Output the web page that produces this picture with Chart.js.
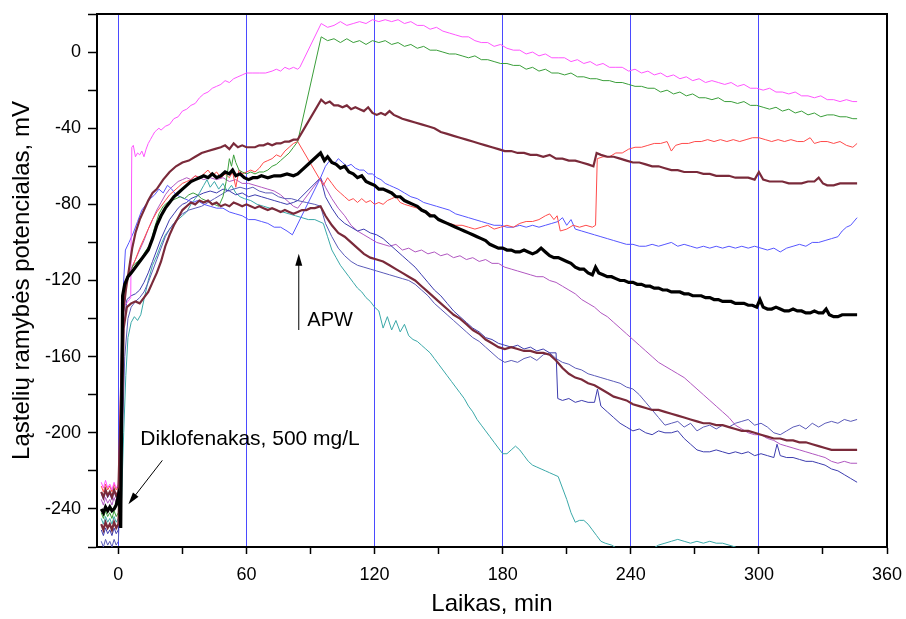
<!DOCTYPE html>
<html><head><meta charset="utf-8">
<script src="https://cdn.jsdelivr.net/npm/chart.js@4"></script>
<style>html,body{margin:0;padding:0;background:#fff}</style>
</head><body>
<canvas id="c" width="906" height="619"></canvas>
<script>
// ---- axis ticks ----
const xTickValues = [0,30,60,90,120,150,180,210,240,270,300,330,360];
const xLabelValues = [0,60,120,180,240,300,360];
const yTickValues = [-260,-240,-220,-200,-180,-160,-140,-120,-100,-80,-60,-40,-20,0,20];
const yLabelValues = [-240,-200,-160,-120,-80,-40,0];
const markerLines = [0,60,120,180,240,300];

// ---- series [time min, potential mV] ----
const blackPts = [[-8,-240],[-7,-242],[-6,-239],[-5,-241],[-4,-239],[-3,-241],[-2,-240],[-1,-238],[0,-233],[0.6,-237],[1.1,-250],[2,-128],[3,-122],[4.5,-118],[6,-116],[8,-113],[10,-110],[12,-107],[14,-104],[16,-98],[18,-91],[20,-86],[22,-82],[24,-79],[26,-76],[28,-74],[30,-72],[32,-70],[34,-68],[36,-67],[38,-66],[40,-65],[42,-66],[44,-64],[46,-66],[48,-65],[50,-63],[52,-64],[53.5,-62],[55,-65],[57,-64],[59,-66],[61,-67],[63,-66],[65,-66],[67,-65],[70,-66],[73,-65],[76,-65],[79,-64],[82,-65],[84,-64],[94.7,-53],[96.5,-57],[98,-55],[100,-58],[102,-59],[104,-61],[106,-60],[108,-63],[110,-64],[112,-66],[114,-65],[116,-68],[118,-69],[120,-70],[122,-72],[124,-72],[126,-73],[128,-74],[130,-76],[132,-76],[134,-78],[136,-79],[138,-80],[140,-81],[142,-83],[144,-84],[146,-86],[148,-86],[150,-88],[152,-89],[154,-90],[156,-91],[158,-92],[160,-93],[162,-94],[164,-95],[166,-96],[168,-97],[170,-98],[172,-99],[174,-101],[176,-102],[178,-103],[180,-103],[182,-104],[184,-104],[186,-105],[188,-105],[190,-104],[192,-105],[194,-106],[196,-105],[198,-103],[200,-105],[202,-107],[204,-108],[206,-108],[208,-109],[210,-110],[212,-111],[214,-113],[216,-114],[218,-114],[220,-116],[222,-117],[223.5,-113],[225,-116],[227,-117],[229,-118],[231,-118],[233,-119],[235,-120],[237,-120],[239,-121],[241,-121],[243,-122],[245,-122],[247,-123],[249,-123],[251,-124],[253,-124],[255,-125],[257,-125],[259,-126],[261,-126],[263,-126],[265,-127],[267,-127],[269,-128],[271,-128],[273,-128],[275,-129],[277,-129],[279,-130],[281,-130],[283,-131],[285,-131],[287,-131],[289,-132],[291,-132],[293,-132],[295,-133],[297,-133],[299,-134],[300.5,-130],[302,-134],[304,-135],[306,-135],[308,-134],[310,-135],[312,-136],[314,-136],[316,-135],[318,-136],[320,-136],[322,-137],[324,-137],[326,-136],[328,-137],[330,-137],[331.5,-135],[333,-138],[335,-139],[337,-139],[339,-138],[341,-138],[343,-138],[346,-138]];

const pinkPts = [[-8,-226],[-7,-229],[-6,-225],[-5,-229],[-4,-227],[-3,-230],[-2,-226],[-1,-229],[0,-227],[1,-200],[1.8,-140],[3,-133],[4.5,-131],[5.8,-129],[6.3,-50],[7,-49],[8,-55],[9,-53],[10,-54],[11,-52],[12,-55],[13,-51],[14,-48],[15,-46],[16,-44],[17,-42],[18,-41],[19,-40],[20,-41],[22,-39],[24,-38],[26,-35],[28,-34],[30,-31],[32,-30],[34,-28],[36,-27],[38,-24],[40,-22],[42,-21],[44,-19],[46,-18],[48,-17],[50,-15],[52,-16],[54,-14],[56,-13],[58,-12],[60,-11],[63,-11],[66,-11],[69,-11],[72,-10],[74,-9],[76,-10],[78,-8],[80,-9],[82,-8],[84,-9],[85,-8],[95,15],[98,13],[101,14],[104,16],[107,14],[110,15],[113,16],[116,15],[119,17],[122,16],[125,17],[128,16],[131,17],[134,15],[137,16],[140,14],[143,14],[146,12],[149,13],[152,11],[155,10],[158,9],[161,8],[164,8],[167,6],[170,5],[173,5],[176,3],[179,4],[182,2],[185,1],[188,1],[191,-1],[194,0],[197,-2],[200,-1],[203,-3],[206,-3],[209,-3],[212,-5],[215,-4],[218,-6],[221,-5],[224,-7],[227,-6],[230,-8],[233,-8],[236,-8],[239,-10],[242,-9],[245,-11],[248,-10],[251,-12],[254,-11],[257,-13],[260,-12],[263,-14],[266,-13],[269,-15],[272,-14],[275,-16],[278,-15],[281,-16],[284,-17],[287,-16],[290,-18],[293,-17],[296,-19],[299,-19],[302,-20],[305,-19],[308,-21],[311,-21],[314,-22],[317,-21],[320,-23],[323,-23],[326,-24],[329,-23],[332,-25],[335,-25],[338,-26],[341,-25],[344,-26],[346,-26]];

const greenPts = [[-8,-242],[-7,-245],[-6,-241],[-5,-244],[-4,-242],[-3,-245],[-2,-241],[-1,-244],[0,-242],[1.5,-200],[2.5,-135],[4,-118],[5.5,-115],[7,-112],[9,-110],[11,-108],[13,-104],[15,-101],[17,-92],[19,-85],[21,-81],[23,-79],[25,-78],[27,-77],[29,-76],[31,-77],[33,-75],[35,-74],[37,-75],[39,-77],[41,-78],[43,-79],[45,-80],[47,-81],[49,-76],[50.5,-68],[52,-56],[53,-60],[54,-54],[55,-58],[56.5,-62],[58,-63],[60,-64],[62,-63],[64,-64],[66,-63],[68,-63],[70,-62],[72,-60],[74,-59],[76,-57],[78,-55],[80,-53],[82,-50],[84,-47],[95,8],[98,6],[101,7],[104,5],[107,7],[110,5],[113,6],[116,4],[119,6],[122,5],[125,6],[128,4],[131,5],[134,3],[137,4],[140,2],[143,3],[146,1],[149,1],[152,0],[155,-1],[158,-1],[161,-2],[164,-3],[167,-2],[170,-4],[173,-4],[176,-5],[179,-6],[182,-6],[185,-7],[188,-7],[191,-9],[194,-8],[197,-10],[200,-9],[203,-11],[206,-11],[209,-12],[212,-11],[215,-13],[218,-13],[221,-14],[224,-14],[227,-15],[230,-15],[233,-16],[236,-16],[239,-17],[242,-18],[245,-18],[248,-19],[251,-19],[254,-21],[257,-20],[260,-22],[263,-21],[266,-23],[269,-22],[272,-24],[275,-24],[278,-25],[281,-24],[284,-26],[287,-26],[290,-27],[293,-26],[296,-28],[299,-28],[302,-29],[305,-30],[308,-29],[311,-31],[314,-30],[317,-32],[320,-31],[323,-33],[326,-32],[329,-34],[332,-33],[335,-33],[338,-34],[341,-34],[344,-35],[346,-35]];

const maroonUpperPts = [[-8,-231],[-7,-234],[-6,-230],[-5,-233],[-4,-231],[-3,-234],[-2,-230],[-1,-233],[0,-231],[1,-190],[2,-140],[3.5,-125],[5,-114],[6.5,-103],[8,-95],[10,-88],[12,-83],[14,-78],[16,-74],[18,-72],[21,-67],[24,-63],[27,-60],[30,-58],[33,-57],[36,-55],[39,-53],[42,-52],[45,-51],[48,-50],[50,-49],[52,-51],[54,-48],[56,-50],[58,-49],[60,-50],[62,-50],[64,-50],[66,-49],[68,-49],[70,-48],[72,-49],[74,-48],[76,-48],[78,-47],[80,-47],[82,-46],[84,-46],[95,-25],[97,-27],[99,-26],[101,-28],[103,-28],[105,-29],[107,-28],[109,-30],[111,-29],[113,-30],[115,-31],[117,-29],[119,-32],[121,-33],[123,-32],[125,-33],[127,-31],[129,-33],[131,-34],[133,-35],[136,-36],[139,-37],[142,-38],[145,-39],[148,-40],[151,-42],[154,-43],[157,-44],[160,-45],[163,-46],[166,-47],[169,-48],[172,-49],[175,-50],[178,-51],[181,-52],[184,-52],[187,-53],[190,-53],[193,-54],[196,-54],[199,-55],[202,-54],[205,-56],[208,-56],[211,-57],[214,-57],[217,-58],[220,-59],[222.5,-60],[224,-53],[226,-54],[229,-55],[232,-55],[235,-56],[238,-57],[241,-58],[244,-58],[247,-59],[250,-60],[253,-60],[256,-61],[259,-62],[262,-62],[265,-63],[268,-63],[271,-63],[274,-64],[277,-64],[280,-65],[283,-65],[286,-65],[289,-66],[292,-66],[295,-66],[298,-67],[300,-63],[302,-67],[305,-68],[308,-68],[311,-68],[314,-69],[317,-69],[320,-69],[323,-68],[326,-68],[328,-66],[330,-69],[332,-70],[335,-70],[338,-69],[341,-69],[344,-69],[346,-69]];

const redPts = [[-8,-228],[-7,-231],[-6,-227],[-5,-230],[-4,-228],[-3,-231],[-2,-227],[-1,-230],[0,-228],[1,-180],[2,-130],[3.5,-122],[5,-117],[6.5,-113],[8,-109],[10,-103],[12,-98],[14,-93],[16,-88],[18,-84],[20,-81],[22,-78],[24,-75],[26,-73],[28,-71],[30,-69],[32,-68],[34,-67],[36,-65],[38,-66],[40,-64],[42,-62],[44,-65],[46,-63],[48,-66],[50,-64],[52,-66],[53.5,-63],[55,-71],[56.5,-62],[58,-64],[60,-63],[62,-62],[64,-63],[66,-61],[68,-58],[70,-57],[72,-56],[74,-54],[76,-55],[78,-52],[80,-50],[82,-48],[84,-47],[96,-70],[98,-66],[100,-69],[102,-72],[104,-74],[106,-76],[108,-78],[110,-77],[112,-79],[114,-77],[116,-79],[118,-78],[120,-80],[122,-79],[124,-80],[126,-78],[128,-77],[130,-76],[132,-79],[134,-80],[137,-81],[140,-82],[143,-84],[146,-85],[149,-87],[152,-89],[155,-90],[158,-91],[161,-91],[164,-92],[167,-93],[170,-92],[173,-91],[176,-93],[179,-92],[182,-91],[185,-92],[188,-90],[191,-89],[194,-89],[197,-88],[200,-86],[202,-85],[204,-88],[205.5,-86],[207,-94],[210,-93],[213,-91],[216,-92],[219,-91],[222,-92],[223.5,-91],[224.3,-56],[227,-55],[230,-55],[233,-53],[236,-53],[239,-51],[242,-50],[245,-50],[248,-49],[251,-48],[254,-48],[257,-47],[259,-52],[261,-49],[264,-48],[267,-48],[270,-47],[273,-47],[276,-46],[279,-47],[282,-46],[285,-47],[288,-46],[291,-47],[294,-46],[297,-45],[300,-45],[303,-46],[306,-47],[309,-46],[312,-47],[315,-46],[318,-47],[321,-47],[324,-45],[326,-48],[329,-47],[332,-47],[335,-48],[338,-47],[341,-49],[344,-50],[346,-48]];

const lightBluePts = [[-8,-232],[-7,-235],[-6,-231],[-5,-234],[-4,-232],[-3,-235],[-2,-231],[-1,-234],[0,-232],[1,-190],[2,-130],[3.3,-104],[5,-100],[7,-95],[9,-89],[11,-83],[13,-80],[15,-77],[17,-75],[19,-72],[21,-74],[23,-70],[25,-72],[27,-75],[29,-76],[31,-77],[33,-78],[35,-79],[37,-78],[40,-80],[43,-81],[46,-82],[49,-82],[52,-84],[55,-85],[58,-86],[61,-88],[64,-88],[67,-89],[70,-90],[73,-92],[76,-92],[79,-94],[81.5,-96],[94.7,-66],[97,-60],[99,-57],[101,-59],[103,-56],[105,-58],[107,-60],[109,-59],[111,-61],[113,-62],[115,-62],[117,-64],[119,-64],[121,-66],[123,-67],[125,-69],[127,-70],[129,-71],[131,-72],[134,-74],[137,-76],[140,-77],[143,-79],[146,-80],[149,-81],[152,-82],[155,-83],[158,-85],[161,-86],[164,-87],[167,-88],[170,-89],[173,-90],[176,-91],[179,-91],[182,-92],[185,-92],[188,-91],[191,-92],[194,-91],[197,-92],[200,-91],[203,-90],[206,-89],[208,-87],[210,-91],[212,-88],[214,-93],[217,-94],[220,-95],[223,-96],[226,-97],[229,-98],[232,-99],[235,-100],[238,-101],[241,-101],[244,-102],[247,-102],[250,-101],[253,-102],[256,-101],[259,-100],[262,-102],[265,-101],[268,-102],[271,-103],[274,-102],[277,-103],[280,-102],[283,-103],[286,-102],[289,-103],[292,-102],[295,-103],[298,-102],[301,-103],[304,-104],[307,-103],[310,-105],[313,-103],[316,-102],[319,-101],[322,-102],[325,-100],[328,-100],[331,-99],[334,-98],[337,-97],[339,-94],[341,-92],[343,-91],[346,-87]];

const navyAPts = [[-8,-251],[-7,-254],[-6,-250],[-5,-253],[-4,-251],[-3,-254],[-2,-250],[-1,-253],[0,-251],[1.5,-200],[2.5,-145],[4,-130],[6,-128],[8,-127],[10,-125],[12,-121],[14,-116],[16,-110],[18,-104],[20,-98],[22,-93],[24,-88],[26,-85],[28,-82],[30,-80],[32,-79],[34,-77],[36,-76],[38,-75],[40,-74],[43,-73],[46,-74],[49,-72],[52,-73],[55,-75],[58,-74],[61,-76],[64,-75],[67,-76],[70,-77],[73,-78],[76,-79],[79,-80],[82,-79],[84,-78],[94.7,-66],[97,-76],[100,-82],[103,-87],[106,-90],[109,-92],[112,-94],[115,-93],[118,-95],[121,-96],[124,-98],[127,-101],[130,-104],[133,-107],[136,-110],[139,-113],[142,-117],[145,-121],[148,-125],[151,-128],[154,-132],[157,-136],[160,-139],[163,-142],[166,-145],[169,-147],[172,-150],[175,-151],[178,-153],[181,-154],[184,-155],[187,-154],[190,-156],[193,-155],[196,-157],[199,-156],[202,-158],[205,-158],[205.8,-182],[208,-183],[211,-182],[214,-184],[217,-183],[220,-184],[223,-184],[224.4,-177],[226,-186],[229,-189],[232,-192],[235,-195],[238,-197],[241,-199],[244,-198],[247,-200],[250,-201],[253,-199],[256,-200],[259,-200],[262,-199],[265,-203],[268,-206],[271,-209],[274,-210],[277,-210],[280,-209],[283,-210],[286,-211],[289,-210],[292,-211],[295,-210],[298,-212],[301,-211],[304,-212],[307,-213],[308.5,-206],[310,-212],[313,-213],[316,-213],[319,-214],[322,-215],[325,-215],[328,-216],[331,-217],[334,-219],[337,-220],[340,-222],[343,-224],[346,-226]];

const navyBPts = [[-8,-257],[-7,-260],[-6,-256],[-5,-259],[-4,-257],[-3,-260],[-2,-256],[-1,-259],[0,-257],[1.5,-215],[3,-160],[4.5,-140],[6,-134],[8,-131],[10,-129],[12,-126],[14,-121],[16,-115],[18,-109],[20,-103],[22,-97],[24,-93],[26,-90],[28,-87],[30,-85],[33,-83],[36,-82],[39,-81],[42,-79],[45,-77],[48,-75],[51,-73],[54,-72],[57,-71],[60,-72],[63,-71],[66,-73],[69,-74],[72,-74],[75,-76],[78,-77],[81,-77],[84,-78],[88,-79],[92,-80],[94.7,-81],[97,-90],[100,-97],[103,-103],[106,-107],[109,-110],[112,-112],[115,-113],[118,-114],[121,-115],[124,-116],[127,-117],[130,-118],[133,-119],[136,-120],[139,-122],[142,-125],[145,-128],[148,-132],[151,-135],[154,-138],[157,-141],[160,-144],[163,-147],[166,-150],[169,-152],[172,-155],[175,-158],[178,-161],[181,-163],[184,-162],[187,-163],[190,-161],[193,-160],[196,-162],[199,-159],[202,-158],[205,-161],[208,-163],[211,-164],[214,-166],[217,-167],[220,-169],[223,-170],[226,-171],[229,-172],[232,-173],[235,-174],[238,-176],[241,-177],[244,-180],[247,-184],[250,-188],[253,-192],[256,-196],[259,-195],[262,-194],[265,-197],[268,-195],[271,-199],[274,-197],[277,-196],[280,-198],[283,-196],[286,-197],[289,-195],[292,-194],[295,-193],[298,-196],[301,-195],[304,-197],[307,-200],[310,-201],[313,-199],[316,-197],[319,-196],[322,-198],[325,-195],[328,-197],[331,-195],[334,-194],[337,-195],[340,-193],[343,-194],[346,-193]];

const purplePts = [[-8,-235],[-7,-238],[-6,-234],[-5,-237],[-4,-235],[-3,-238],[-2,-234],[-1,-237],[0,-235],[1.5,-185],[2.5,-135],[4,-120],[6,-114],[8,-109],[10,-104],[12,-99],[14,-93],[16,-88],[18,-83],[20,-79],[22,-75],[24,-72],[26,-70],[28,-68],[30,-67],[32,-66],[34,-67],[36,-65],[38,-66],[40,-67],[43,-66],[46,-67],[49,-66],[52,-68],[55,-67],[58,-69],[61,-69],[64,-70],[67,-71],[70,-72],[73,-73],[76,-75],[79,-78],[82,-81],[84,-82],[94.7,-66],[97,-71],[100,-77],[103,-82],[106,-86],[109,-91],[112,-94],[115,-96],[118,-98],[121,-100],[124,-101],[127,-102],[130,-101],[133,-104],[136,-103],[139,-105],[142,-104],[145,-106],[148,-105],[151,-107],[154,-106],[157,-108],[160,-107],[163,-109],[166,-108],[169,-110],[172,-109],[175,-111],[178,-111],[181,-113],[184,-114],[187,-115],[190,-116],[193,-117],[196,-118],[199,-118],[202,-120],[205,-121],[208,-123],[211,-125],[214,-127],[217,-130],[220,-132],[223,-134],[226,-137],[229,-139],[232,-142],[235,-145],[238,-148],[241,-151],[244,-154],[247,-157],[250,-160],[253,-163],[256,-165],[259,-167],[262,-169],[265,-171],[268,-174],[271,-177],[274,-180],[277,-183],[280,-186],[283,-189],[286,-192],[289,-196],[292,-198],[295,-200],[298,-201],[301,-201],[304,-203],[307,-204],[310,-206],[313,-207],[316,-208],[319,-209],[322,-210],[325,-211],[328,-212],[331,-213],[334,-215],[337,-216],[340,-215],[343,-216],[346,-216]];

const tealPts = [[-8,-245],[-7,-248],[-6,-244],[-5,-247],[-4,-245],[-3,-248],[-2,-244],[-1,-247],[0,-245],[1.5,-235],[2.5,-200],[3.5,-170],[4.5,-150],[6,-142],[7.5,-139],[9,-141],[10.5,-138],[12,-130],[14,-120],[16,-112],[18,-107],[20,-101],[22,-96],[24,-93],[26,-90],[28,-88],[30,-86],[32,-84],[34,-80],[36,-77],[38,-74],[40,-70],[41.5,-67],[43,-71],[45,-68],[47,-72],[49,-69],[51,-73],[53,-70],[55,-74],[57,-76],[59,-77],[62,-78],[65,-80],[68,-81],[71,-82],[74,-83],[77,-84],[80,-85],[83,-86],[86,-87],[89,-88],[92,-88],[96,-90],[98,-97],[100,-104],[102,-108],[104,-112],[106,-115],[108,-118],[110,-121],[112,-124],[114,-126],[116,-129],[118,-131],[120,-134],[122,-136],[124,-145],[126,-139],[128,-146],[130,-141],[132,-147],[134,-143],[136,-149],[138,-151],[140,-152],[142,-154],[144,-156],[146,-158],[148,-161],[150,-164],[152,-167],[154,-170],[156,-173],[158,-176],[160,-179],[162,-182],[164,-186],[166,-189],[168,-193],[170,-196],[172,-199],[174,-202],[176,-205],[178,-208],[180,-211],[182,-211],[184,-209],[186,-207],[188,-209],[190,-212],[192,-215],[194,-217],[196,-218],[198,-219],[200,-220],[202,-221],[204,-222],[206,-223],[208,-229],[210,-235],[212,-242],[214,-247],[216,-246],[218,-246],[220,-248],[222,-251],[224,-254],[226,-257],[228,-258],[231,-259],[234,-261],[238,-263],[242,-263],[246,-262],[250,-261],[253,-259],[256,-258],[259,-257],[262,-256],[265,-257],[268,-258],[271,-257],[274,-258],[277,-257],[280,-258],[283,-258],[286,-259],[289,-260],[292,-262],[296,-264],[300,-266]];

const maroonLowerPts = [[-8,-248],[-7,-251],[-6,-247],[-5,-250],[-4,-248],[-3,-251],[-2,-247],[-1,-250],[0,-248],[1.5,-200],[2.5,-145],[4,-134],[6,-132],[8,-131],[10,-132],[12,-129],[14,-126],[16,-121],[18,-116],[20,-110],[22,-102],[24,-96],[26,-91],[28,-87],[30,-83],[32,-81],[34,-79],[36,-80],[38,-78],[40,-79],[42,-78],[44,-80],[46,-79],[48,-81],[50,-80],[52,-81],[54,-79],[56,-80],[58,-81],[60,-80],[62,-81],[64,-82],[66,-81],[68,-82],[70,-83],[72,-82],[74,-83],[76,-84],[78,-83],[80,-84],[82,-85],[84,-84],[86,-83],[88,-83],[90,-82],[92,-82],[94.7,-81],[97,-86],[100,-91],[103,-95],[106,-97],[109,-100],[112,-103],[115,-106],[118,-108],[121,-109],[124,-110],[127,-112],[130,-114],[133,-116],[136,-118],[139,-120],[142,-123],[145,-126],[148,-129],[151,-132],[154,-135],[157,-138],[160,-140],[163,-143],[166,-146],[169,-148],[172,-151],[175,-153],[178,-155],[181,-156],[184,-155],[187,-156],[190,-157],[193,-157],[196,-158],[199,-158],[202,-159],[205,-162],[208,-166],[211,-169],[214,-171],[217,-172],[220,-174],[223,-175],[226,-177],[229,-179],[232,-181],[235,-182],[238,-183],[241,-185],[244,-186],[247,-187],[250,-188],[253,-188],[256,-189],[259,-190],[262,-191],[265,-192],[268,-193],[271,-194],[274,-195],[277,-195],[280,-196],[283,-196],[286,-197],[289,-198],[292,-199],[295,-199],[298,-200],[301,-201],[304,-202],[307,-203],[310,-203],[313,-204],[316,-204],[319,-205],[322,-205],[325,-206],[328,-207],[331,-208],[334,-209],[337,-209],[340,-209],[343,-209],[346,-209]];

// ---- annotations (data coordinates) ----
const apwLabel = {text: 'APW', x: 88.5, y: -141};
const apwArrow = {x1: 84.5, y1: -146, x2: 84.5, y2: -106};
const drugLabel = {text: 'Diklofenakas, 500 mg/L', x: 10.3, y: -203.5};
const drugArrow = {x1: 20.6, y1: -214.5, x2: 4.7, y2: -237.5};

// ---- styles ----
const styles = [
  {pts: blackPts, color: '#000000', width: 3.2},
  {pts: maroonUpperPts, color: '#7a2a3a', width: 2.2},
  {pts: maroonLowerPts, color: '#7a2a3a', width: 2.2},
  {pts: pinkPts, color: '#ff55ff', width: 1},
  {pts: greenPts, color: '#3a9e3a', width: 1},
  {pts: redPts, color: '#ff4a4a', width: 1},
  {pts: lightBluePts, color: '#5656ff', width: 1},
  {pts: navyAPts, color: '#3c3cae', width: 1},
  {pts: navyBPts, color: '#5a5ab8', width: 1},
  {pts: purplePts, color: '#b057c0', width: 1},
  {pts: tealPts, color: '#3aa8a8', width: 1}
];

const FONT = "'Liberation Sans', Arial, sans-serif";

function drawArrow(ctx, x1, y1, x2, y2, len, half) {
  const a = Math.atan2(y2 - y1, x2 - x1);
  ctx.beginPath();
  ctx.moveTo(x1, y1);
  ctx.lineTo(x2 - Math.cos(a) * len * 0.8, y2 - Math.sin(a) * len * 0.8);
  ctx.stroke();
  ctx.beginPath();
  ctx.moveTo(x2, y2);
  ctx.lineTo(x2 - Math.cos(a) * len + Math.sin(a) * half, y2 - Math.sin(a) * len - Math.cos(a) * half);
  ctx.lineTo(x2 - Math.cos(a) * len - Math.sin(a) * half, y2 - Math.sin(a) * len + Math.cos(a) * half);
  ctx.closePath();
  ctx.fill();
}

const extras = {
  id: 'extras',
  afterDatasetsDraw(chart) {
    const {ctx, chartArea: ca, scales: {x, y}} = chart;
    ctx.save();
    ctx.strokeStyle = '#000';
    ctx.lineWidth = 2;
    ctx.beginPath();
    ctx.moveTo(ca.left, ca.top);
    ctx.lineTo(ca.right, ca.top);
    ctx.lineTo(ca.right, ca.bottom);
    ctx.stroke();
    ctx.fillStyle = '#000';
    ctx.strokeStyle = '#000';
    ctx.lineWidth = 1;
    drawArrow(ctx, x.getPixelForValue(apwArrow.x1), y.getPixelForValue(apwArrow.y1), x.getPixelForValue(apwArrow.x2), y.getPixelForValue(apwArrow.y2), 12, 3.5);
    drawArrow(ctx, x.getPixelForValue(drugArrow.x1), y.getPixelForValue(drugArrow.y1), x.getPixelForValue(drugArrow.x2), y.getPixelForValue(drugArrow.y2), 12, 3.5);
    ctx.font = '20px ' + FONT;
    ctx.textBaseline = 'middle';
    ctx.textAlign = 'left';
    ctx.fillText(apwLabel.text, x.getPixelForValue(apwLabel.x), y.getPixelForValue(apwLabel.y));
    ctx.font = '21px ' + FONT;
    ctx.fillText(drugLabel.text, x.getPixelForValue(drugLabel.x), y.getPixelForValue(drugLabel.y));
    ctx.restore();
  }
};

new Chart(document.getElementById('c'), {
  type: 'line',
  data: {
    datasets: styles.map(s => ({
      data: s.pts.map(p => ({x: p[0], y: p[1]})),
      borderColor: s.color,
      borderWidth: s.width,
      pointRadius: 0,
      tension: 0,
      fill: false
    }))
  },
  options: {
    responsive: false,
    animation: false,
    devicePixelRatio: 1,
    layout: {padding: {left: 0, right: 19, top: 14, bottom: 0}},
    plugins: {legend: {display: false}, tooltip: {enabled: false}},
    scales: {
      x: {
        type: 'linear', min: -10, max: 360,
        afterBuildTicks: s => { s.ticks = xTickValues.map(v => ({value: v})); },
        afterFit: s => { s.height = 72; s.paddingLeft = 0; s.paddingRight = 0; },
        ticks: {autoSkip: false, maxRotation: 0, color: '#000', padding: 10,
          font: {family: FONT, size: 18},
          callback: v => xLabelValues.includes(v) ? String(v) : ''},
        grid: {
          color: c => (c.tick && markerLines.includes(c.tick.value)) ? '#4a4aff' : 'rgba(0,0,0,0)',
          tickColor: '#000', tickLength: 7, tickWidth: 1.5, lineWidth: 1
        },
        border: {color: '#000', width: 2},
        title: {display: true, text: 'Laikas, min', color: '#000', font: {family: FONT, size: 24}, padding: {top: 0, bottom: 0}}
      },
      y: {
        type: 'linear', min: -260, max: 20,
        afterBuildTicks: s => { s.ticks = yTickValues.map(v => ({value: v})); },
        afterFit: s => { s.width = 97; s.paddingTop = 0; s.paddingBottom = 0; },
        ticks: {autoSkip: false, color: '#000', padding: 7,
          font: {family: FONT, size: 18},
          callback: v => yLabelValues.includes(v) ? String(v) : ''},
        grid: {color: 'rgba(0,0,0,0)', tickColor: '#000', tickLength: 9, tickWidth: 1.5},
        border: {color: '#000', width: 2},
        title: {display: true, text: 'Ląstelių ramybės potencialas, mV', color: '#000', font: {family: FONT, size: 24}, padding: {top: 8, bottom: 0}}
      }
    }
  },
  plugins: [extras]
});
</script>
</body></html>
